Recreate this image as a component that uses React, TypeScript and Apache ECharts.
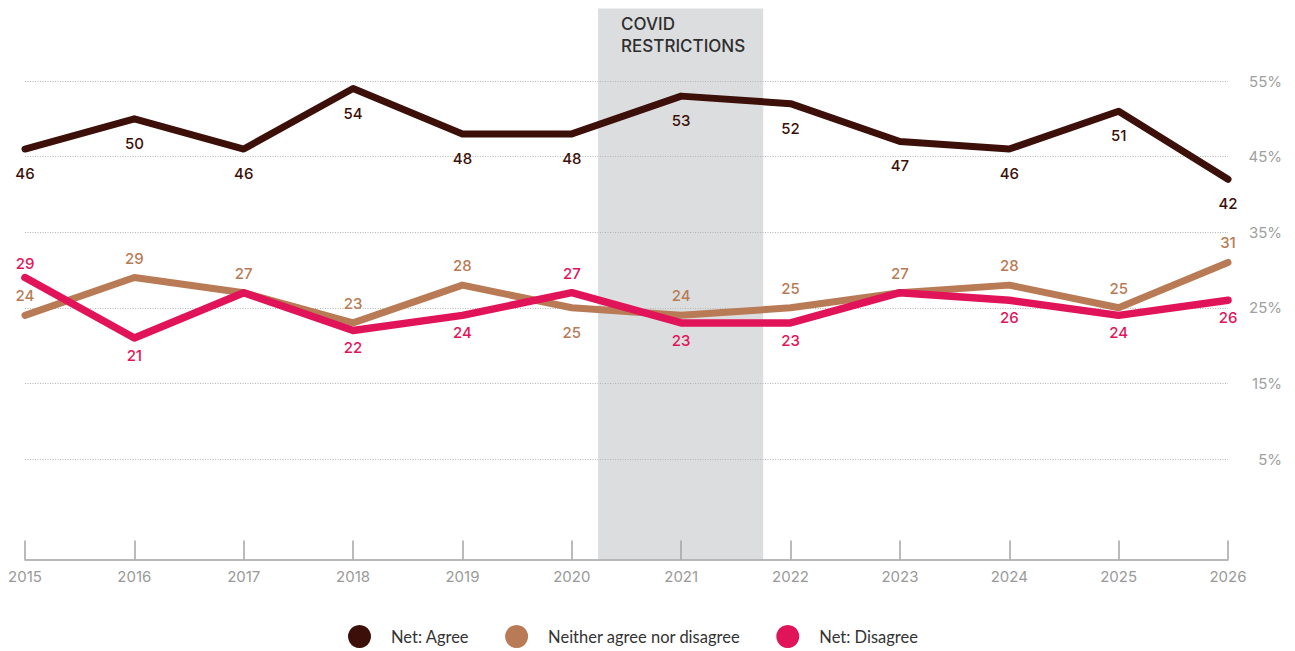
import React, { useEffect, useRef } from "react";
import * as echarts from "echarts";

const years = [2015, 2016, 2017, 2018, 2019, 2020, 2021, 2022, 2023, 2024, 2025, 2026];
const netAgree = [46, 50, 46, 54, 48, 48, 53, 52, 47, 46, 51, 42];
const neither = [24, 29, 27, 23, 28, 25, 24, 25, 27, 28, 25, 31];
const netDisagree = [29, 21, 27, 22, 24, 27, 23, 23, 27, 26, 24, 26];
// label placement overrides
const neitherBelow = [2020];
const disagreeAbove = [2015, 2020];
const disagreeHidden = [2017, 2023];
const covidSpan = [2020.24, 2021.75];
const covidLabel = "COVID\nRESTRICTIONS";
const yTicksShown = [5, 15, 25, 35, 45, 55];

const C_AGREE = "#3c1008";
const C_NEITHER = "#b97b55";
const C_DIS = "#e1145a";
const AXIS_OFFSET = 25;
const FONT = "Inter, 'Noto Sans', sans-serif";

export default function App() {
  const ref = useRef<HTMLDivElement>(null);
  useEffect(() => {
    if (!ref.current) return;
    const chart = echarts.init(ref.current, undefined, { renderer: "svg" });
    const labelBase = { show: true, fontFamily: FONT, fontSize: 15, fontWeight: 500 };
    chart.setOption({
      animation: false,
      backgroundColor: "#ffffff",
      grid: { left: 25, right: 67, top: 5.4, bottom: 116.4, containLabel: false },
      xAxis: {
        type: "value",
        min: 2015,
        max: 2026,
        interval: 1,
        offset: AXIS_OFFSET,
        z: 3,
        axisLine: { show: true, onZero: false, lineStyle: { color: "#a3a3a3", width: 1.5 } },
        axisTick: { show: true, inside: true, length: 19, lineStyle: { color: "#a3a3a3", width: 1.5 } },
        axisLabel: {
          color: "#9a9a9a",
          fontFamily: FONT,
          fontSize: 15,
          margin: 9,
          formatter: (v: number) => String(v),
        },
        splitLine: { show: false },
      },
      yAxis: {
        type: "value",
        position: "right",
        min: -5,
        max: 65,
        interval: 10,
        z: 3,
        axisLine: { show: false },
        axisTick: { show: false },
        axisLabel: {
          color: "#a0a0a0",
          fontFamily: FONT,
          fontSize: 15,
          align: "right",
          margin: 54,
          formatter: (v: number) => (yTicksShown.includes(v) ? v + "%" : ""),
        },
        splitLine: {
          show: true,
          showMinLine: false,
          showMaxLine: false,
          lineStyle: { color: "#b5b5b5", type: [1, 1.5], width: 1 },
        },
      },
      legend: {
        left: 343,
        top: 620,
        icon: "circle",
        itemWidth: 53,
        itemHeight: 23,
        itemGap: 36,
        textStyle: { fontFamily: "Lato, 'Noto Sans', sans-serif", fontSize: 16.5, color: "#333" },
        data: ["Net: Agree", "Neither agree nor disagree", "Net: Disagree"],
      },
      series: [
        {
          type: "custom",
          name: "covid",
          z: 1,
          silent: true,
          clip: false,
          data: [covidSpan],
          renderItem: (params: any, api: any) => {
            const cs = params.coordSys;
            const p0 = api.coord([api.value(0), 64.6]);
            const p1 = api.coord([api.value(1), 64.6]);
            const bottom = cs.y + cs.height + AXIS_OFFSET;
            return {
              type: "group",
              children: [
                {
                  type: "rect",
                  shape: { x: p0[0], y: p0[1], width: p1[0] - p0[0], height: bottom - p0[1] },
                  style: { fill: "#dcdddf" },
                },
                {
                  type: "text",
                  x: p0[0] + 23,
                  y: p0[1] + 5,
                  style: {
                    text: covidLabel,
                    fill: "#2e2e2e",
                    font: "500 17px " + FONT,
                    lineHeight: 22,
                    textAlign: "left",
                    textVerticalAlign: "top",
                  },
                },
              ],
            };
          },
        },
        {
          type: "line",
          name: "Net: Agree",
          color: C_AGREE,
          data: years.map((y, i) => [y, netAgree[i]]),
          symbol: "circle",
          symbolSize: 0,
          lineStyle: { width: 7, color: C_AGREE, cap: "round", join: "round" },
          label: { ...labelBase, color: C_AGREE, position: "bottom", distance: 17 },
          z: 4,
        },
        {
          type: "line",
          name: "Neither agree nor disagree",
          color: C_NEITHER,
          data: years.map((y, i) => ({
            value: [y, neither[i]],
            label: neitherBelow.includes(y) ? { position: "bottom", distance: 17 } : undefined,
          })),
          symbol: "circle",
          symbolSize: 0,
          lineStyle: { width: 7, color: C_NEITHER, cap: "round", join: "round" },
          label: { ...labelBase, color: C_NEITHER, position: "top", distance: 12 },
          z: 4,
        },
        {
          type: "line",
          name: "Net: Disagree",
          color: C_DIS,
          data: years.map((y, i) => ({
            value: [y, netDisagree[i]],
            label: disagreeHidden.includes(y)
              ? { show: false }
              : disagreeAbove.includes(y)
              ? { position: "top", distance: y === 2015 ? 7 : 12 }
              : undefined,
          })),
          symbol: "circle",
          symbolSize: 0,
          lineStyle: { width: 7.5, color: C_DIS, cap: "round", join: "round" },
          label: { ...labelBase, color: C_DIS, position: "bottom", distance: 10 },
          z: 5,
        },
      ],
    });
    return () => chart.dispose();
  }, []);
  return (
    <div
      ref={ref}
      style={{ position: "absolute", left: 0, top: 0, width: 1295, height: 651 }}
    />
  );
}
